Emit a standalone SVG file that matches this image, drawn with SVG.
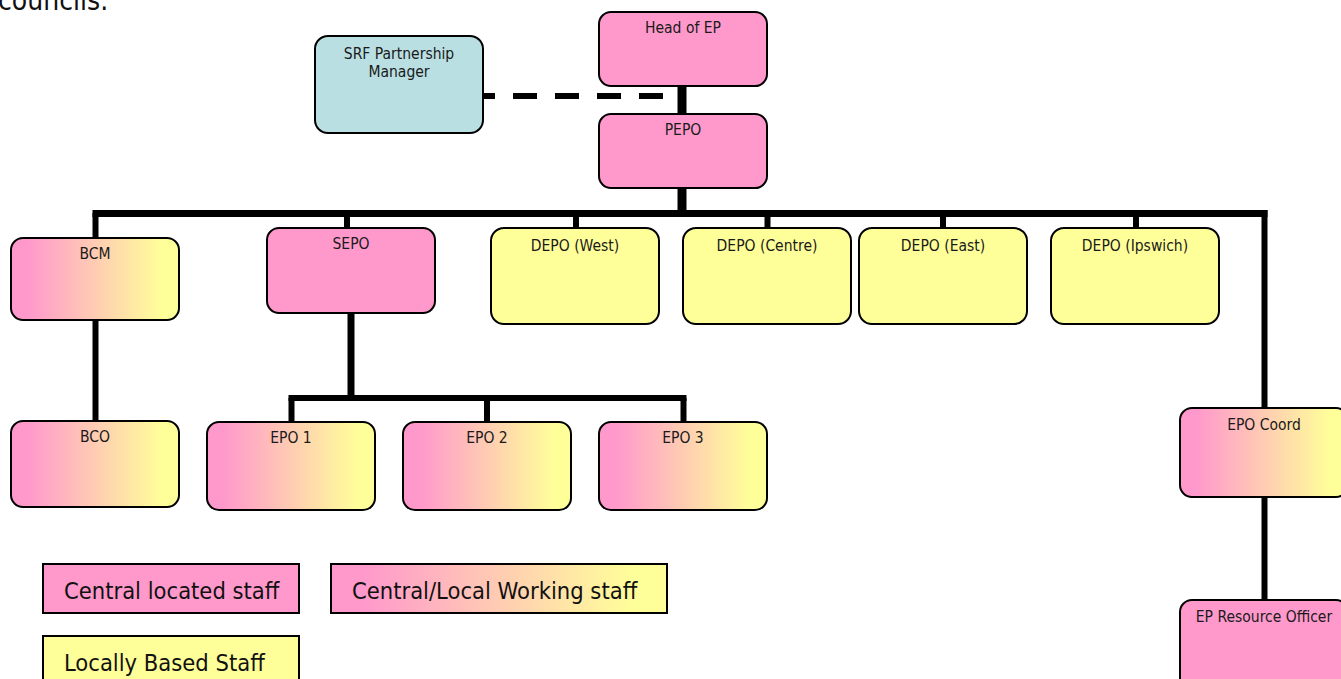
<svg xmlns="http://www.w3.org/2000/svg" width="1341" height="679" viewBox="0 0 1341 679">
<defs>
<linearGradient id="pk2yl" x1="0" y1="0" x2="1" y2="0">
<stop offset="0" stop-color="#FF99CC"/>
<stop offset="0.1" stop-color="#FF99CC"/>
<stop offset="0.9" stop-color="#FFFF99"/>
<stop offset="1" stop-color="#FFFF99"/>
</linearGradient>
<style>
.box{stroke:#000;stroke-width:2}
.pink{fill:#FF99CC}
.yel{fill:#FFFF99}
.grad{fill:url(#pk2yl)}
.blue{fill:#B9DFE3}
.lbl{font-family:"DejaVu Sans Condensed","DejaVu Sans",sans-serif;font-size:15.5px;fill:#1a1a1a;text-anchor:middle}
.leg{font-family:"DejaVu Sans Condensed","DejaVu Sans",sans-serif;font-size:23.5px;fill:#111}
.ln{stroke:#000;fill:none;stroke-linecap:butt}
</style>
</defs>
<rect width="1341" height="679" fill="#fff"/>
<text x="-2" y="10" style="font-family:'DejaVu Sans Condensed','DejaVu Sans',sans-serif;font-size:28px;fill:#111">councils.</text>
<g id="connectors">
<line class="ln" x1="663" y1="96" x2="483" y2="96" stroke-width="6" stroke-dasharray="24 18"/>
<line class="ln" x1="682" y1="86" x2="682" y2="114" stroke-width="9"/>
<line class="ln" x1="682" y1="188" x2="682" y2="217" stroke-width="9"/>
<line class="ln" x1="92.5" y1="213.5" x2="1267.5" y2="213.5" stroke-width="7"/>
<line class="ln" x1="95.5" y1="213" x2="95.5" y2="238" stroke-width="6"/>
<line class="ln" x1="347" y1="213" x2="347" y2="228" stroke-width="6"/>
<line class="ln" x1="576" y1="213" x2="576" y2="228" stroke-width="6"/>
<line class="ln" x1="767.5" y1="213" x2="767.5" y2="228" stroke-width="6"/>
<line class="ln" x1="943" y1="213" x2="943" y2="228" stroke-width="6"/>
<line class="ln" x1="1136" y1="213" x2="1136" y2="228" stroke-width="6"/>
<line class="ln" x1="1264.5" y1="210" x2="1264.5" y2="408" stroke-width="6"/>
<line class="ln" x1="95.5" y1="320" x2="95.5" y2="421" stroke-width="6"/>
<line class="ln" x1="351" y1="313" x2="351" y2="401" stroke-width="7"/>
<line class="ln" x1="288.5" y1="398" x2="686.5" y2="398" stroke-width="6"/>
<line class="ln" x1="291.5" y1="398" x2="291.5" y2="422" stroke-width="6"/>
<line class="ln" x1="487" y1="398" x2="487" y2="422" stroke-width="6"/>
<line class="ln" x1="683.5" y1="398" x2="683.5" y2="422" stroke-width="6"/>
<line class="ln" x1="1264.5" y1="497" x2="1264.5" y2="600" stroke-width="6"/>
</g>
<g id="srf"><rect class="box blue" x="315" y="36" width="168" height="97" rx="13"/><text class="lbl" x="399" y="59">SRF Partnership</text><text class="lbl" x="399" y="77">Manager</text></g>
<g id="head"><rect class="box pink" x="599" y="12" width="168" height="74" rx="12"/><text class="lbl" x="683" y="33">Head of EP</text></g>
<g id="pepo"><rect class="box pink" x="599" y="114" width="168" height="74" rx="12"/><text class="lbl" x="683" y="135">PEPO</text></g>
<g id="bcm"><rect class="box grad" x="11" y="238" width="168" height="82" rx="12"/><text class="lbl" x="95" y="259">BCM</text></g>
<g id="sepo"><rect class="box pink" x="267" y="228" width="168" height="85" rx="12"/><text class="lbl" x="351" y="249">SEPO</text></g>
<g id="depo-west"><rect class="box yel" x="491" y="228" width="168" height="96" rx="13"/><text class="lbl" x="575" y="251">DEPO (West)</text></g>
<g id="depo-centre"><rect class="box yel" x="683" y="228" width="168" height="96" rx="13"/><text class="lbl" x="767" y="251">DEPO (Centre)</text></g>
<g id="depo-east"><rect class="box yel" x="859" y="228" width="168" height="96" rx="13"/><text class="lbl" x="943" y="251">DEPO (East)</text></g>
<g id="depo-ipswich"><rect class="box yel" x="1051" y="228" width="168" height="96" rx="13"/><text class="lbl" x="1135" y="251">DEPO (Ipswich)</text></g>
<g id="bco"><rect class="box grad" x="11" y="421" width="168" height="86" rx="12"/><text class="lbl" x="95" y="442">BCO</text></g>
<g id="epo1"><rect class="box grad" x="207" y="422" width="168" height="88" rx="12"/><text class="lbl" x="291" y="443">EPO 1</text></g>
<g id="epo2"><rect class="box grad" x="403" y="422" width="168" height="88" rx="12"/><text class="lbl" x="487" y="443">EPO 2</text></g>
<g id="epo3"><rect class="box grad" x="599" y="422" width="168" height="88" rx="12"/><text class="lbl" x="683" y="443">EPO 3</text></g>
<g id="epo-coord"><rect class="box grad" x="1180" y="408" width="168" height="89" rx="12"/><text class="lbl" x="1264" y="430">EPO Coord</text></g>
<g id="ep-resource"><rect class="box pink" x="1180" y="600" width="168" height="95" rx="12"/><text class="lbl" x="1264" y="622">EP Resource Officer</text></g>
<g id="legend">
<g id="leg-central"><rect class="box pink" x="43" y="564" width="256" height="49"/><text class="leg" x="64" y="599">Central located staff</text></g>
<g id="leg-mixed"><rect class="box grad" x="331" y="564" width="336" height="49"/><text class="leg" x="352" y="599">Central/Local Working staff</text></g>
<g id="leg-local"><rect class="box yel" x="43" y="636" width="256" height="50"/><text class="leg" x="64" y="671">Locally Based Staff</text></g>
</g>
</svg>
